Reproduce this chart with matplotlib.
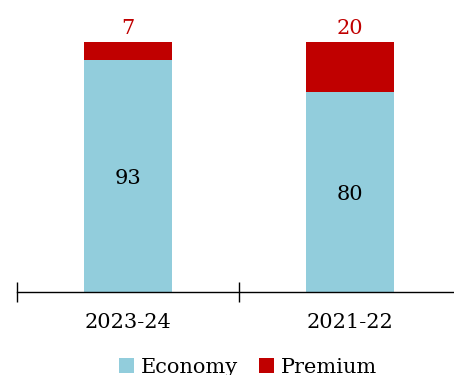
import matplotlib.pyplot as plt
import numpy as np

periods = ["2023-24", "2021-22"]
economy = [93, 80]
premium = [7, 20]

ECON_COLOR = "#92CDDC"
PREM_COLOR = "#C00000"

plt.rcParams["font.family"] = ["DejaVu Serif"]

fig = plt.figure(figsize=(4.54, 3.75), dpi=100)
ax = fig.add_axes([17 / 454, 83 / 375, 444 / 454, 250 / 375])

x = np.arange(len(periods))
w = 0.40
b1 = ax.bar(x, economy, width=w, color=ECON_COLOR, label="Economy")
b2 = ax.bar(x, premium, width=w, bottom=economy, color=PREM_COLOR, label="Premium")

# economy values inside the bar, premium values above the stack
for xi, e, p in zip(x, economy, premium):
    ax.text(xi, e / 2 - 1, str(e), ha="center", va="center", fontsize=15, color="black")
    ax.text(xi, e + p + 1.5, str(p), ha="center", va="bottom", fontsize=15, color=PREM_COLOR)

ax.set_xlim(-0.5, len(periods) - 0.5)
ax.set_ylim(0, 100)
ax.set_yticks([])
for s in ["top", "right", "left"]:
    ax.spines[s].set_visible(False)
ax.spines["bottom"].set_linewidth(1.0)

ax.set_xticks(x)
ax.set_xticklabels(periods, fontsize=15)
ax.tick_params(axis="x", which="major", length=0, pad=15)
ax.set_xticks(np.arange(-0.5, len(periods)), minor=True)
ax.tick_params(axis="x", which="minor", direction="inout", length=15, width=1.0)

fig.legend(handles=[b1, b2], loc="lower center", bbox_to_anchor=(0.547, -0.055),
           ncol=2, frameon=False, fontsize=15, handlelength=0.7, handleheight=0.7,
           handletextpad=0.35, columnspacing=1.0)

fig.savefig("out.png", dpi=100)
